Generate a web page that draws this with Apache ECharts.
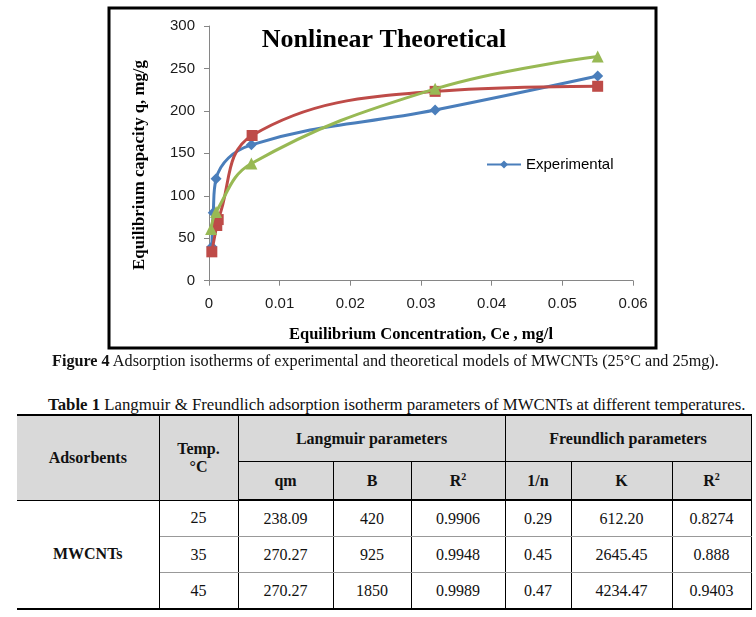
<!DOCTYPE html>
<html><head><meta charset="utf-8">
<script src="https://cdn.jsdelivr.net/npm/echarts@6/dist/echarts.min.js"></script>
<style>
html,body{margin:0;padding:0;background:#fff;width:756px;height:617px;overflow:hidden;}
#chart{position:absolute;left:0;top:0;width:756px;height:355px;}
.cap{position:absolute;font-family:"Liberation Serif",serif;color:#111;white-space:nowrap;line-height:18px;}
#tbl{position:absolute;left:17px;top:414px;border-collapse:collapse;font-family:"Liberation Serif",serif;font-size:16px;color:#111;table-layout:fixed;width:734px;}
#tbl td,#tbl th{text-align:center;vertical-align:middle;padding:0;border:1px solid #000;}
#tbl th{background:#d9d9d9;font-weight:bold;}
#tbl tr.h1 th{border-top:2px solid #000;height:45px;}
#tbl tr.h2 th{border-bottom:2px solid #000;height:37px;}
#tbl tr.d td{height:35px;border-top:1px solid #999;border-bottom:1px solid #999;}
#tbl tr.last td{border-bottom:2px solid #000;}
#tbl .first{border-left:none;}
#tbl sup{font-size:10px;vertical-align:6px;line-height:0;}
</style></head>
<body>
<div id="chart"></div>
<div class="cap" style="left:52px;top:352px;font-size:16.2px;"><b>Figure 4</b> Adsorption isotherms of experimental and theoretical models of MWCNTs (25°C and 25mg).</div>
<div class="cap" style="left:48px;top:396px;font-size:16.8px;"><b>Table 1</b> Langmuir &amp; Freundlich adsorption isotherm parameters of MWCNTs at different temperatures.</div>
<table id="tbl"></table>
<script>
// ---- chart data ----
var expCe  = [0.0004, 0.0006, 0.001, 0.006, 0.032, 0.055];
var expQ   = [40, 80, 120, 160, 201, 241];
var langCe = [0.0004, 0.0011, 0.0013, 0.0061, 0.032, 0.055];
var langQ  = [34, 65, 72, 171, 223, 229];
var freuCe = [0.0003, 0.001, 0.006, 0.032, 0.055];
var freuQ  = [61, 81, 138, 226, 264];
var xTicks = [0, 0.01, 0.02, 0.03, 0.04, 0.05, 0.06];
var yTicks = [0, 50, 100, 150, 200, 250, 300];

// ---- table data ----
var adsorbent = 'MWCNTs';
var temps  = ['25', '35', '45'];
var lQm    = ['238.09', '270.27', '270.27'];
var lB     = ['420', '925', '1850'];
var lR2    = ['0.9906', '0.9948', '0.9989'];
var fN     = ['0.29', '0.45', '0.47'];
var fK     = ['612.20', '2645.45', '4234.47'];
var fR2    = ['0.8274', '0.888', '0.9403'];

function zip(a, b) { return a.map(function (v, i) { return [v, b[i]]; }); }

var chart = echarts.init(document.getElementById('chart'), null, {renderer: 'canvas'});
var tickFont = {color: '#1a1a1a', fontSize: 15, fontFamily: 'Liberation Sans, Arial, sans-serif'};
chart.setOption({
  animation: false,
  backgroundColor: '#fff',
  title: {
    text: 'Nonlinear Theoretical', left: 379, top: 22, textAlign: 'center',
    textStyle: {fontFamily: 'Liberation Serif, serif', fontWeight: 'bold', fontSize: 26, color: '#000'}
  },
  legend: {
    data: ['Experimental'], left: 481, top: 152, itemWidth: 34, itemHeight: 10, itemGap: 2,
    textStyle: {fontFamily: 'Liberation Sans, Arial, sans-serif', fontSize: 15, color: '#000'}
  },
  grid: {left: 209, right: 123, top: 26, bottom: 74.3, containLabel: false},
  xAxis: {
    type: 'value', min: xTicks[0], max: xTicks[xTicks.length - 1], interval: 0.01,
    name: 'Equilibrium Concentration, Ce , mg/l', nameLocation: 'middle', nameGap: 46,
    nameTextStyle: {fontFamily: 'Liberation Serif, serif', fontWeight: 'bold', fontSize: 16.5, color: '#000'},
    axisLine: {show: true, lineStyle: {color: '#868686', width: 1}},
    axisTick: {show: true, inside: false, length: 5, lineStyle: {color: '#868686'}},
    splitLine: {show: false},
    axisLabel: Object.assign({margin: 16, formatter: function (v) { return v === 0 ? '0' : String(+v.toFixed(2)); }}, tickFont)
  },
  yAxis: {
    type: 'value', min: yTicks[0], max: yTicks[yTicks.length - 1], interval: 50,
    axisLine: {show: true, lineStyle: {color: '#868686', width: 1}},
    axisTick: {show: true, inside: false, length: 5, lineStyle: {color: '#868686'}},
    splitLine: {show: false},
    axisLabel: Object.assign({margin: 14}, tickFont)
  },
  graphic: [
    {type: 'rect', shape: {x: 109, y: 8, width: 547, height: 340}, style: {fill: null, stroke: '#000', lineWidth: 3}, silent: true, z: 100},
    {type: 'text', x: 140, y: 165, rotation: Math.PI / 2,
     style: {text: 'Equilibrium capacity q, mg/g', fontFamily: 'Liberation Serif, serif', fontWeight: 'bold', fontSize: 16.8, fill: '#000', align: 'center', verticalAlign: 'middle'}}
  ],
  series: [
    {name: 'Experimental', type: 'line', data: zip(expCe, expQ), smooth: 0.4,
     symbol: 'diamond', symbolSize: 11, lineStyle: {width: 3, color: '#4A7EBB'}, itemStyle: {color: '#4A7EBB'}, z: 2},
    {name: 'Langmuir', type: 'line', data: zip(langCe, langQ), smooth: 0.4,
     symbol: 'rect', symbolSize: 11, lineStyle: {width: 3, color: '#BE4B48'}, itemStyle: {color: '#BE4B48'}, z: 3},
    {name: 'Freundlich', type: 'line', data: zip(freuCe, freuQ), smooth: 0.4,
     symbol: 'triangle', symbolSize: 12, lineStyle: {width: 3, color: '#98B954'}, itemStyle: {color: '#98B954'}, z: 4}
  ]
});

// ---- table ----
var html = '';
html += '<colgroup><col style="width:142px"><col style="width:79px"><col style="width:95px"><col style="width:78px"><col style="width:94px"><col style="width:66px"><col style="width:101px"><col style="width:79px"></colgroup>';
html += '<tr class="h1"><th rowspan="2" class="first">Adsorbents</th><th rowspan="2">Temp.<br>°C</th><th colspan="3">Langmuir parameters</th><th colspan="3">Freundlich parameters</th></tr>';
html += '<tr class="h2"><th>qm</th><th>B</th><th>R<sup>2</sup></th><th>1/n</th><th>K</th><th>R<sup>2</sup></th></tr>';
for (var i = 0; i < temps.length; i++) {
  html += '<tr class="d' + (i === temps.length - 1 ? ' last' : '') + '">';
  if (i === 0) html += '<td rowspan="' + temps.length + '" class="first" style="font-weight:bold;border-bottom:2px solid #000;">' + adsorbent + '</td>';
  html += '<td>' + temps[i] + '</td><td>' + lQm[i] + '</td><td>' + lB[i] + '</td><td>' + lR2[i] + '</td><td>' + fN[i] + '</td><td>' + fK[i] + '</td><td>' + fR2[i] + '</td></tr>';
}
document.getElementById('tbl').innerHTML = html;
</script>
</body></html>
